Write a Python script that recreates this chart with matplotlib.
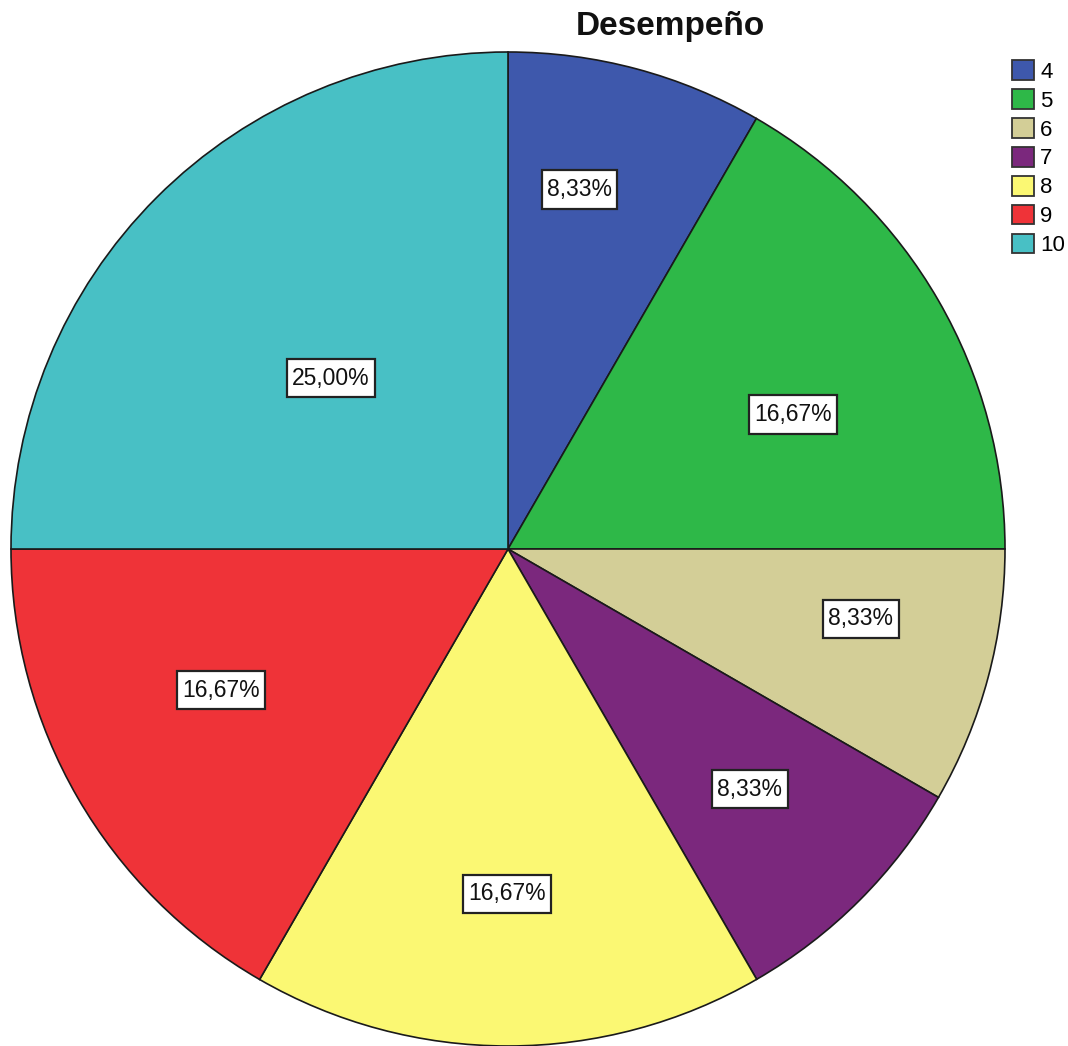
import matplotlib
matplotlib.use("Agg")
import matplotlib.pyplot as plt
import numpy as np
from matplotlib.patches import Patch

categories = ["4", "5", "6", "7", "8", "9", "10"]
values = [8.33, 16.67, 8.33, 8.33, 16.67, 16.67, 25.00]
labels = ["8,33%", "16,67%", "8,33%", "8,33%", "16,67%", "16,67%", "25,00%"]
colors = ["#3E58AC", "#2EB848", "#D3CE97", "#7B287D", "#FBF873", "#EF3338", "#48C0C5"]
# label placement: offset from slice mid-angle (deg) and fraction of radius
label_angle_offset = [3.7, -4.8, 3.8, 0.2, -0.2, -3.8, 1.0]
label_radius = [0.737, 0.634, 0.724, 0.686, 0.694, 0.643, 0.495]

plt.rcParams['font.family'] = ['Liberation Sans', 'DejaVu Sans']

W, H = 1068, 1046
fig = plt.figure(figsize=(W / 100, H / 100), dpi=100)
cx, cy, r = 508, 549, 497
ax = fig.add_axes([(cx - r) / W, (H - cy - r) / H, 2 * r / W, 2 * r / H])

wedges, _ = ax.pie(values, colors=colors, startangle=90, counterclock=False,
                   radius=1.0, wedgeprops=dict(edgecolor="#1a1a1a", linewidth=1.2))
ax.set_xlim(-1, 1)
ax.set_ylim(-1, 1)
ax.set_aspect("equal")
ax.axis("off")

total = sum(values)
start = 90.0
for v, lab, off, rf in zip(values, labels, label_angle_offset, label_radius):
    span = 360.0 * v / total
    mid = np.deg2rad(start - span / 2 + off)
    start -= span
    t = ax.text(rf * np.cos(mid), rf * np.sin(mid), lab, ha="center", va="center",
                fontsize=16.5, color="#111111",
                bbox=dict(boxstyle="square,pad=0.22", facecolor="white",
                          edgecolor="#222222", linewidth=1.6))
    t.get_bbox_patch().set_mutation_aspect(1.55)

fig.text(670 / W, 1 - 35 / H, "Desempeño", ha="center", va="baseline",
         fontsize=24, fontweight="bold", color="#111111")

handles = [Patch(facecolor=c, edgecolor="#333333", linewidth=1.3) for c in colors]
leg = fig.legend(handles, categories, loc="upper left",
                 bbox_to_anchor=(1008 / W, 1 - 56 / H), frameon=False,
                 fontsize=16, handlelength=0.95, handleheight=0.98,
                 handletextpad=0.3, labelspacing=0.29, borderpad=0.2,
                 borderaxespad=0)

fig.savefig("out.png", dpi=100, facecolor="white")
